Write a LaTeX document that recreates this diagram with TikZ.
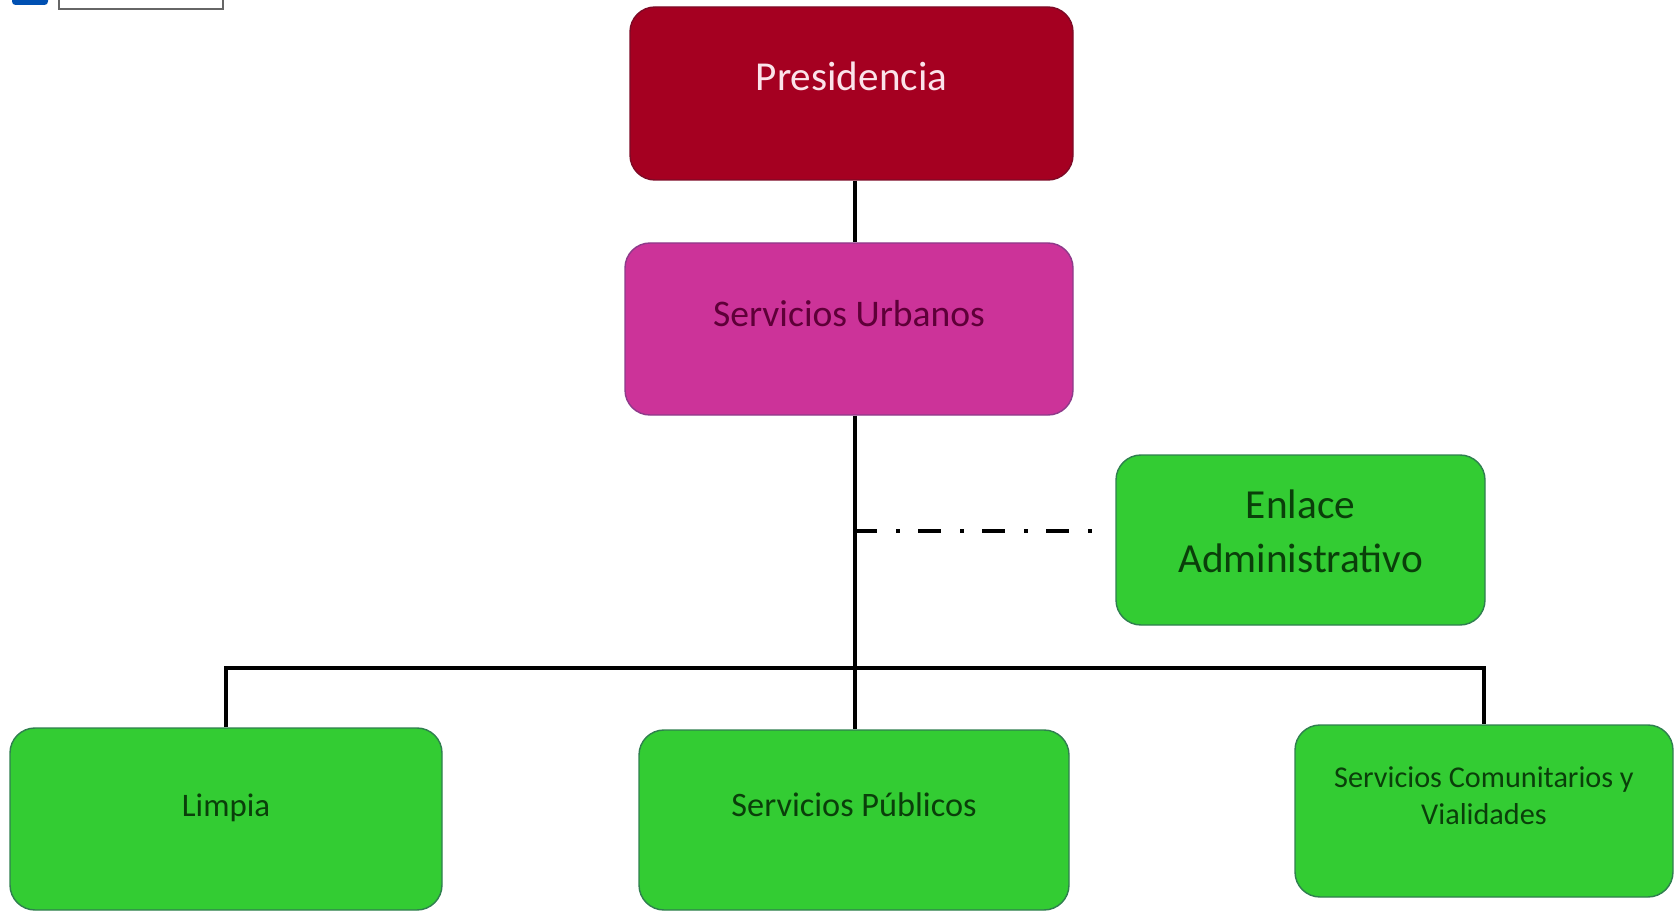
\documentclass[tikz,border=0pt]{standalone}
\usepackage{fontspec}
\setmainfont{Carlito}
\usetikzlibrary{positioning}

\definecolor{presfill}{HTML}{A50021}
\definecolor{presdraw}{HTML}{7E0A26}
\definecolor{prestext}{HTML}{FBE3EA}
\definecolor{urbfill}{HTML}{CC3399}
\definecolor{urbdraw}{HTML}{8E3A8A}
\definecolor{urbtext}{HTML}{5E0038}
\definecolor{unitfill}{HTML}{33CC33}
\definecolor{unitdraw}{HTML}{2F7F4F}
\definecolor{unittext}{HTML}{0A3F0A}

\begin{document}
\begin{tikzpicture}[
  box/.style={
    draw,
    line width=0.8pt,
    rounded corners=0.5cm,
    align=center,
    text depth=0.55cm
  },
  presbox/.style={
    box,
    fill=presfill,
    draw=presdraw,
    text=prestext,
    font=\fontsize{23.4}{28}\selectfont
  },
  urbbox/.style={
    box,
    fill=urbfill,
    draw=urbdraw,
    text=urbtext,
    font=\fontsize{21.4}{26}\selectfont
  },
  unitbox/.style={
    box,
    fill=unitfill,
    draw=unitdraw,
    text=unittext
  },
  link/.style={line width=1.9pt, black},
  dashdot/.style={
    line width=2.3pt,
    dash pattern=on 0.46cm off 0.38cm on 0.08cm off 0.36cm,
    dash phase=0.02cm
  }
]
\useasboundingbox (0,0) rectangle (33.5,-18.22);

% --------------------
% Page remnants
% --------------------
\fill[blue!55!cyan!70!black, rounded corners=2pt] (0.24,0.1) rectangle (0.96,-0.1);
\draw[gray!80!black, line width=0.9pt, fill=white] (1.18,0.2) rectangle (4.46,-0.18);

% --------------------
% Top levels
% --------------------
\node[presbox, minimum width=8.86cm, minimum height=3.46cm, text depth=0.68cm] (pres)
  at (17.03,-1.87) {Presidencia};
\node[urbbox, minimum width=8.96cm, minimum height=3.44cm, text depth=0.62cm] (urb)
  at (16.98,-6.58) {Servicios Urbanos};
\node[unitbox, minimum width=7.38cm, minimum height=3.40cm,
  font=\fontsize{23.5}{30.7}\selectfont, text depth=0.34cm] (enlace)
  at (26.01,-10.8) {Enlace\\Administrativo};

% --------------------
% Operating units
% --------------------
\node[unitbox, minimum width=8.64cm, minimum height=3.64cm,
  font=\fontsize{18.7}{22}\selectfont] (limpia)
  at (4.52,-16.38) {Limpia};
\node[unitbox, minimum width=8.6cm, minimum height=3.6cm,
  font=\fontsize{19.5}{23}\selectfont, text depth=0.62cm] (publicos)
  at (17.08,-16.4) {Servicios Públicos};
\node[unitbox, minimum width=7.56cm, minimum height=3.44cm,
  font=\fontsize{17.2}{21}\selectfont, text depth=0.63cm] (comunit)
  at (29.68,-16.22) {Servicios Comunitarios y\\Vialidades};

% --------------------
% Connectors
% --------------------
\coordinate (trunk) at (17.1,-13.36);
\coordinate (tap) at (17.1,-10.62);

\draw[link] (pres.south -| trunk) -- (urb.north -| trunk);
\draw[link] (urb.south -| trunk) -- (publicos.north -| trunk);
\draw[link] (limpia.north) |- (trunk) -| (comunit.north);
\draw[dashdot] (tap) -- ([xshift=-0.28cm]enlace.west |- tap);

\end{tikzpicture}
\end{document}
